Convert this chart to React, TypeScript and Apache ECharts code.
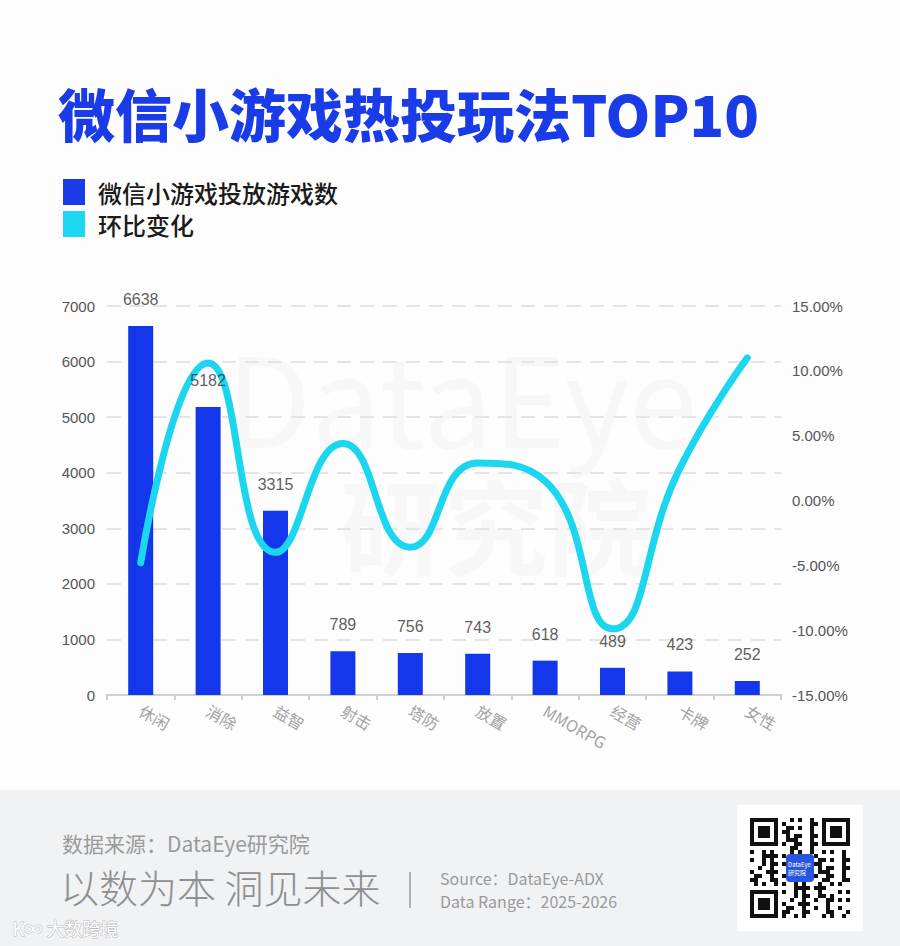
import React, { useEffect, useRef } from "react";
import * as echarts from "echarts";

const categories = ["休闲", "消除", "益智", "射击", "塔防", "放置", "MMORPG", "经营", "卡牌", "女性"];
const gameCounts = [6638, 5182, 3315, 789, 756, 743, 618, 489, 423, 252];
const momChange = [-4.8, 10.6, -4.0, 4.4, -3.6, 2.9, 1.5, -9.9, 2.5, 11.0];
const leftTicks = { min: 0, max: 7000, interval: 1000 };
const rightTicks = { min: -15, max: 15, interval: 5 };
const seriesNames = ["微信小游戏投放游戏数", "环比变化"];

const BLUE = "#1437eb";
const CYAN = "#1cd6f0";
const FONT = '"Noto Sans CJK SC", "Noto Sans", sans-serif';
const NUMFONT = '"Liberation Sans", Arial, sans-serif';

function qrCells() {
  const n = 25;
  const cells: any[] = [];
  const size = 4;
  const ox = 750;
  const oy = 818;
  const finder = (r: number, c: number) => {
    const inF = (r0: number, c0: number) =>
      r >= r0 && r < r0 + 7 && c >= c0 && c < c0 + 7;
    const ring = (r0: number, c0: number) => {
      const rr = r - r0, cc = c - c0;
      if (rr === 0 || rr === 6 || cc === 0 || cc === 6) return true;
      if (rr >= 2 && rr <= 4 && cc >= 2 && cc <= 4) return true;
      return false;
    };
    if (inF(0, 0)) return ring(0, 0) ? 1 : 0;
    if (inF(0, n - 7)) return ring(0, n - 7) ? 1 : 0;
    if (inF(n - 7, 0)) return ring(n - 7, 0) ? 1 : 0;
    if ((r === 7 && (c < 8 || c >= n - 8)) || (c === 7 && (r < 8 || r >= n - 8)) || (r === n - 8 && c < 8) || (c === n - 8 && r < 8)) return 0;
    return -1;
  };
  for (let r = 0; r < n; r++) {
    for (let c = 0; c < n; c++) {
      let v = finder(r, c);
      if (v === -1) {
        const h = (r * 31 + c * 17 + ((r * c) % 7) * 5 + (r ^ c)) % 5;
        v = h < 2 ? 1 : 0;
      }
      if (r >= 9 && r <= 15 && c >= 9 && c <= 15) v = 0;
      if (v) {
        cells.push({
          type: "rect",
          shape: { x: ox + c * size, y: oy + r * size, width: size, height: size },
          style: { fill: "#111" },
          silent: true,
        });
      }
    }
  }
  return cells;
}

export default function App() {
  const ref = useRef<HTMLDivElement>(null);
  useEffect(() => {
    if (!ref.current) return;
    const chart = echarts.init(ref.current, null, { renderer: "svg" });
    const option: any = {
      animation: false,
      backgroundColor: "#fdfdfe",
      title: {
        text: "微信小游戏热投玩法TOP10",
        left: 53,
        top: 78,
        textStyle: { fontFamily: FONT, fontSize: 57, fontWeight: 900, color: "#1a3be8" },
      },
      legend: {
        orient: "vertical",
        left: 58,
        top: 174,
        itemWidth: 22,
        itemHeight: 26,
        itemGap: 6,
        icon: "rect",
        data: [
          { name: seriesNames[0], itemStyle: { color: "#1a3be8" } },
          { name: seriesNames[1], itemStyle: { color: "#1ed8f2" } },
        ],
        textStyle: { fontFamily: FONT, fontSize: 24, color: "#1a1a1a", fontWeight: 500, padding: [0, 0, 0, 8] },
      },
      grid: { left: 107, right: 119, top: 306, bottom: 251, containLabel: false },
      xAxis: {
        type: "category",
        data: categories,
        axisLine: { lineStyle: { color: "#cfcfd6", width: 2 } },
        axisTick: { show: true, alignWithLabel: false, length: 5, lineStyle: { color: "#cfcfd6", width: 2 } },
        axisLabel: { rotate: -30, color: "#a3a3a3", fontSize: 16, fontFamily: FONT, margin: 14 },
      },
      yAxis: [
        {
          type: "value",
          min: leftTicks.min,
          max: leftTicks.max,
          interval: leftTicks.interval,
          axisLine: { show: false },
          axisTick: { show: false },
          axisLabel: {
            color: "#555",
            fontSize: 15,
            fontFamily: NUMFONT,
            margin: 12,
            formatter: (v: number) => String(v),
          },
          splitLine: { lineStyle: { color: "#e4e4e8", width: 2, type: [14, 9] } },
        },
        {
          type: "value",
          min: rightTicks.min,
          max: rightTicks.max,
          interval: rightTicks.interval,
          axisLine: { show: false },
          axisTick: { show: false },
          splitLine: { show: false },
          axisLabel: {
            color: "#555",
            fontSize: 15,
            fontFamily: NUMFONT,
            margin: 11,
            formatter: (v: number) => v.toFixed(2) + "%",
          },
        },
      ],
      series: [
        {
          name: seriesNames[0],
          type: "bar",
          data: gameCounts,
          barWidth: 25,
          itemStyle: { color: BLUE },
          z: 2,
        },
        {
          name: seriesNames[1],
          type: "line",
          yAxisIndex: 1,
          data: momChange,
          smooth: 0.5,
          showSymbol: false,
          symbol: "none",
          lineStyle: { color: CYAN, width: 7, cap: "round" },
          itemStyle: { color: CYAN },
          z: 3,
        },
        {
          name: "barLabels",
          type: "scatter",
          data: gameCounts,
          symbolSize: 1,
          itemStyle: { color: "rgba(0,0,0,0)" },
          silent: true,
          z: 6,
          label: {
            show: true,
            position: "top",
            distance: 18,
            color: "#333",
            fontSize: 16,
            fontFamily: NUMFONT,
          },
        },
      ],
      graphic: [
        {
          type: "text",
          left: 226,
          top: 332,
          z: -10,
          silent: true,
          style: { text: "DataEye", fontSize: 124, lineHeight: 100, fontFamily: FONT, fontWeight: 400, fill: "rgba(0,0,0,0.022)" },
        },
        {
          type: "text",
          left: 340,
          top: 470,
          z: -10,
          silent: true,
          style: { text: "研究院", fontSize: 104, lineHeight: 100, fontFamily: FONT, fontWeight: 700, fill: "rgba(0,0,0,0.022)" },
        },
        {
          type: "rect",
          left: 0,
          top: 790,
          z: -5,
          silent: true,
          shape: { width: 900, height: 156 },
          style: { fill: "#f1f2f4" },
        },
        {
          type: "text",
          left: 62,
          top: 832,
          style: { text: "数据来源：DataEye研究院", fontSize: 21, fontFamily: FONT, fill: "#9a9a9a" },
        },
        {
          type: "text",
          left: 60,
          top: 866,
          style: { text: "以数为本 洞见未来", fontSize: 39, fontFamily: FONT, fontWeight: 300, fill: "#8f8f8f" },
        },
        {
          type: "line",
          shape: { x1: 410, y1: 872, x2: 410, y2: 908 },
          style: { stroke: "#9a9a9a", lineWidth: 1.5 },
        },
        {
          type: "text",
          left: 440,
          top: 869,
          style: { text: "Source：DataEye-ADX", fontSize: 16, lineHeight: 18, fontFamily: FONT, fill: "#9a9a9a" },
        },
        {
          type: "text",
          left: 440,
          top: 892,
          style: { text: "Data Range：2025-2026", fontSize: 16, lineHeight: 18, fontFamily: FONT, fill: "#9a9a9a" },
        },
        {
          type: "rect",
          shape: { x: 737, y: 805, width: 126, height: 126 },
          style: { fill: "#ffffff" },
        },
        ...qrCells(),
        {
          type: "rect",
          shape: { x: 786, y: 854, width: 28, height: 28, r: 4 },
          style: { fill: "#2a55e0" },
        },
        {
          type: "text",
          left: 788,
          top: 860,
          style: { text: "DataEye\n研究院", fontSize: 6, fontFamily: FONT, fill: "#ffffff", lineHeight: 8 },
        },
        {
          type: "text",
          left: 12,
          top: 918,
          style: { text: "K∞ 大数跨境", fontSize: 18, fontFamily: FONT, fill: "#ffffff", stroke: "#b8b8b8", lineWidth: 1 },
        },
      ],
    };
    chart.setOption(option);
    return () => chart.dispose();
  }, []);
  return (
    <div
      ref={ref}
      style={{ position: "absolute", left: 0, top: 0, width: 900, height: 946 }}
    />
  );
}
